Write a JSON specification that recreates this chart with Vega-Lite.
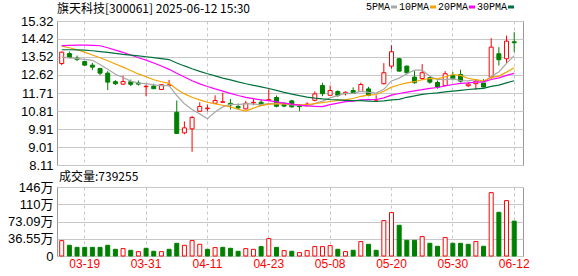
{
  "$schema": "https://vega.github.io/schema/vega-lite/v6.json",
  "padding": {"left": 0, "top": 2, "right": 0, "bottom": 0},
  "background": "#ffffff",
  "config": {
    "view": {"stroke": "#999999", "strokeWidth": 1},
    "axis": {
      "labelFont": "Liberation Sans, Noto Sans CJK SC",
      "labelFontSize": 13,
      "labelColor": "#000000",
      "gridColor": "#c8c8c8",
      "gridWidth": 1,
      "ticks": false,
      "domain": false,
      "title": null,
      "labelOverlap": false
    },
    "title": {"font": "Noto Sans CJK SC", "fontSize": 12, "fontWeight": "normal", "color": "#000000", "anchor": "start", "frame": "group"}
  },
  "datasets": {
    "k": [
      {"d":"03-14","o":13.19,"h":13.79,"l":13.11,"c":13.76,"v":326000,"up":true,"5PMA":13.51,"10PMA":14.06,"20PMA":14.09,"30PMA":13.88},
      {"d":"03-17","o":13.69,"h":13.79,"l":13.46,"c":13.49,"v":227000,"up":false,"5PMA":13.47,"10PMA":13.98,"20PMA":14.10,"30PMA":13.88},
      {"d":"03-18","o":13.46,"h":13.59,"l":13.31,"c":13.39,"v":184000,"up":false,"5PMA":13.44,"10PMA":13.88,"20PMA":14.11,"30PMA":13.87},
      {"d":"03-19","o":13.29,"h":13.33,"l":13.09,"c":13.11,"v":184000,"up":false,"5PMA":13.40,"10PMA":13.76,"20PMA":14.11,"30PMA":13.86},
      {"d":"03-20","o":13.11,"h":13.23,"l":12.86,"c":13.01,"v":184000,"up":false,"5PMA":13.35,"10PMA":13.62,"20PMA":14.10,"30PMA":13.83},
      {"d":"03-21","o":12.94,"h":12.98,"l":12.61,"c":12.71,"v":184000,"up":false,"5PMA":13.14,"10PMA":13.48,"20PMA":14.08,"30PMA":13.79},
      {"d":"03-24","o":12.71,"h":12.81,"l":11.86,"c":12.26,"v":227000,"up":false,"5PMA":12.90,"10PMA":13.33,"20PMA":13.98,"30PMA":13.75},
      {"d":"03-25","o":12.28,"h":12.36,"l":12.11,"c":12.18,"v":142000,"up":false,"5PMA":12.65,"10PMA":13.17,"20PMA":13.86,"30PMA":13.70},
      {"d":"03-26","o":12.16,"h":12.58,"l":12.11,"c":12.29,"v":156000,"up":true,"5PMA":12.49,"10PMA":13.01,"20PMA":13.75,"30PMA":13.65},
      {"d":"03-27","o":12.28,"h":12.39,"l":12.06,"c":12.15,"v":121000,"up":false,"5PMA":12.31,"10PMA":12.84,"20PMA":13.62,"30PMA":13.61},
      {"d":"03-28","o":12.22,"h":12.34,"l":12.09,"c":12.16,"v":93000,"up":true,"5PMA":12.21,"10PMA":12.67,"20PMA":13.48,"30PMA":13.57},
      {"d":"03-31","o":12.03,"h":12.14,"l":11.55,"c":12.05,"v":163000,"up":false,"5PMA":12.18,"10PMA":12.53,"20PMA":13.36,"30PMA":13.53},
      {"d":"04-01","o":12.06,"h":12.18,"l":11.93,"c":11.93,"v":100000,"up":false,"5PMA":12.12,"10PMA":12.38,"20PMA":13.22,"30PMA":13.49},
      {"d":"04-02","o":11.89,"h":12.14,"l":11.89,"c":12.13,"v":93000,"up":true,"5PMA":12.08,"10PMA":12.28,"20PMA":13.07,"30PMA":13.44},
      {"d":"04-03","o":12.09,"h":12.37,"l":12.05,"c":12.12,"v":142000,"up":false,"5PMA":12.08,"10PMA":12.20,"20PMA":12.90,"30PMA":13.39},
      {"d":"04-07","o":10.75,"h":11.34,"l":9.69,"c":9.69,"v":269000,"up":false,"5PMA":11.59,"10PMA":11.90,"20PMA":12.70,"30PMA":13.22},
      {"d":"04-08","o":9.72,"h":10.29,"l":9.65,"c":9.97,"v":227000,"up":true,"5PMA":11.18,"10PMA":11.67,"20PMA":12.52,"30PMA":13.07},
      {"d":"04-09","o":9.92,"h":10.57,"l":8.77,"c":10.49,"v":326000,"up":true,"5PMA":10.89,"10PMA":11.50,"20PMA":12.33,"30PMA":12.93},
      {"d":"04-10","o":10.80,"h":11.25,"l":10.80,"c":11.04,"v":248000,"up":true,"5PMA":10.67,"10PMA":11.37,"20PMA":12.17,"30PMA":12.80},
      {"d":"04-11","o":10.93,"h":11.14,"l":10.80,"c":10.96,"v":142000,"up":false,"5PMA":10.43,"10PMA":11.25,"20PMA":12.04,"30PMA":12.68},
      {"d":"04-14","o":11.20,"h":11.60,"l":11.20,"c":11.34,"v":178000,"up":true,"5PMA":10.76,"10PMA":11.17,"20PMA":11.92,"30PMA":12.57},
      {"d":"04-15","o":11.25,"h":11.73,"l":11.22,"c":11.28,"v":184000,"up":false,"5PMA":11.02,"10PMA":11.10,"20PMA":11.81,"30PMA":12.46},
      {"d":"04-16","o":11.20,"h":11.42,"l":10.89,"c":11.12,"v":163000,"up":false,"5PMA":11.15,"10PMA":11.02,"20PMA":11.70,"30PMA":12.37},
      {"d":"04-17","o":11.04,"h":11.19,"l":10.89,"c":10.97,"v":100000,"up":false,"5PMA":11.13,"10PMA":10.90,"20PMA":11.59,"30PMA":12.27},
      {"d":"04-18","o":10.92,"h":11.32,"l":10.89,"c":11.20,"v":156000,"up":true,"5PMA":11.18,"10PMA":10.81,"20PMA":11.50,"30PMA":12.18},
      {"d":"04-21","o":11.22,"h":11.44,"l":11.10,"c":11.25,"v":142000,"up":true,"5PMA":11.16,"10PMA":10.96,"20PMA":11.43,"30PMA":12.10},
      {"d":"04-22","o":11.25,"h":11.39,"l":11.10,"c":11.10,"v":199000,"up":false,"5PMA":11.13,"10PMA":11.08,"20PMA":11.37,"30PMA":12.02},
      {"d":"04-23","o":11.35,"h":11.90,"l":11.34,"c":11.38,"v":369000,"up":true,"5PMA":11.18,"10PMA":11.16,"20PMA":11.33,"30PMA":11.94},
      {"d":"04-24","o":11.49,"h":11.59,"l":11.00,"c":11.05,"v":184000,"up":false,"5PMA":11.20,"10PMA":11.17,"20PMA":11.27,"30PMA":11.85},
      {"d":"04-25","o":11.21,"h":11.21,"l":11.00,"c":11.06,"v":114000,"up":true,"5PMA":11.17,"10PMA":11.17,"20PMA":11.21,"30PMA":11.75},
      {"d":"04-28","o":11.32,"h":11.37,"l":10.99,"c":11.02,"v":100000,"up":false,"5PMA":11.12,"10PMA":11.14,"20PMA":11.16,"30PMA":11.66},
      {"d":"04-29","o":11.12,"h":11.14,"l":10.80,"c":11.03,"v":72000,"up":true,"5PMA":11.10,"10PMA":11.12,"20PMA":11.11,"30PMA":11.58},
      {"d":"04-30","o":11.12,"h":11.25,"l":11.09,"c":11.16,"v":114000,"up":true,"5PMA":11.06,"10PMA":11.12,"20PMA":11.07,"30PMA":11.51},
      {"d":"05-06","o":11.35,"h":11.80,"l":11.30,"c":11.67,"v":199000,"up":true,"5PMA":11.18,"10PMA":11.19,"20PMA":11.05,"30PMA":11.46},
      {"d":"05-07","o":12.09,"h":12.23,"l":11.55,"c":11.68,"v":199000,"up":true,"5PMA":11.31,"10PMA":11.23,"20PMA":11.03,"30PMA":11.42},
      {"d":"05-08","o":11.60,"h":12.09,"l":11.60,"c":11.84,"v":220000,"up":true,"5PMA":11.47,"10PMA":11.29,"20PMA":11.13,"30PMA":11.39},
      {"d":"05-09","o":11.79,"h":11.85,"l":11.52,"c":11.59,"v":142000,"up":false,"5PMA":11.58,"10PMA":11.34,"20PMA":11.21,"30PMA":11.37},
      {"d":"05-12","o":11.68,"h":11.80,"l":11.59,"c":11.75,"v":93000,"up":true,"5PMA":11.70,"10PMA":11.38,"20PMA":11.28,"30PMA":11.35},
      {"d":"05-13","o":11.84,"h":12.00,"l":11.67,"c":11.69,"v":121000,"up":false,"5PMA":11.70,"10PMA":11.44,"20PMA":11.31,"30PMA":11.33},
      {"d":"05-14","o":11.79,"h":12.23,"l":11.79,"c":12.14,"v":305000,"up":true,"5PMA":11.80,"10PMA":11.55,"20PMA":11.37,"30PMA":11.33},
      {"d":"05-15","o":11.92,"h":12.02,"l":11.55,"c":11.59,"v":248000,"up":false,"5PMA":11.75,"10PMA":11.61,"20PMA":11.38,"30PMA":11.31},
      {"d":"05-16","o":11.36,"h":11.60,"l":11.30,"c":11.37,"v":121000,"up":false,"5PMA":11.71,"10PMA":11.64,"20PMA":11.39,"30PMA":11.29},
      {"d":"05-19","o":12.18,"h":13.21,"l":12.14,"c":12.73,"v":750000,"up":true,"5PMA":11.90,"10PMA":11.80,"20PMA":11.47,"30PMA":11.32},
      {"d":"05-20","o":13.06,"h":14.11,"l":12.93,"c":13.78,"v":920000,"up":true,"5PMA":12.32,"10PMA":12.01,"20PMA":11.61,"30PMA":11.37},
      {"d":"05-21","o":13.43,"h":13.48,"l":12.79,"c":12.81,"v":651000,"up":false,"5PMA":12.46,"10PMA":12.13,"20PMA":11.69,"30PMA":11.40},
      {"d":"05-22","o":13.06,"h":13.09,"l":12.64,"c":12.73,"v":333000,"up":false,"5PMA":12.68,"10PMA":12.22,"20PMA":11.76,"30PMA":11.50},
      {"d":"05-23","o":12.51,"h":12.81,"l":12.18,"c":12.23,"v":333000,"up":false,"5PMA":12.86,"10PMA":12.28,"20PMA":11.82,"30PMA":11.57},
      {"d":"05-26","o":12.44,"h":13.16,"l":12.36,"c":12.73,"v":411000,"up":true,"5PMA":12.86,"10PMA":12.38,"20PMA":11.88,"30PMA":11.65},
      {"d":"05-27","o":12.48,"h":12.54,"l":12.18,"c":12.26,"v":269000,"up":false,"5PMA":12.55,"10PMA":12.44,"20PMA":11.95,"30PMA":11.69},
      {"d":"05-28","o":12.24,"h":12.34,"l":11.93,"c":12.01,"v":206000,"up":false,"5PMA":12.39,"10PMA":12.42,"20PMA":11.99,"30PMA":11.72},
      {"d":"05-29","o":12.09,"h":12.81,"l":12.07,"c":12.68,"v":390000,"up":true,"5PMA":12.38,"10PMA":12.53,"20PMA":12.07,"30PMA":11.77},
      {"d":"05-30","o":12.59,"h":12.76,"l":12.34,"c":12.43,"v":269000,"up":false,"5PMA":12.42,"10PMA":12.64,"20PMA":12.14,"30PMA":11.81},
      {"d":"06-03","o":12.64,"h":12.88,"l":12.24,"c":12.31,"v":269000,"up":false,"5PMA":12.34,"10PMA":12.60,"20PMA":12.20,"30PMA":11.85},
      {"d":"06-04","o":12.08,"h":12.26,"l":12.01,"c":12.16,"v":248000,"up":false,"5PMA":12.32,"10PMA":12.44,"20PMA":12.22,"30PMA":11.89},
      {"d":"06-05","o":12.18,"h":12.39,"l":11.88,"c":12.31,"v":305000,"up":true,"5PMA":12.38,"10PMA":12.39,"20PMA":12.26,"30PMA":11.92},
      {"d":"06-06","o":12.22,"h":12.41,"l":12.01,"c":12.01,"v":206000,"up":false,"5PMA":12.24,"10PMA":12.31,"20PMA":12.27,"30PMA":11.95},
      {"d":"06-09","o":12.51,"h":14.46,"l":12.43,"c":14.01,"v":1343000,"up":true,"5PMA":12.56,"10PMA":12.49,"20PMA":12.39,"30PMA":12.05},
      {"d":"06-10","o":13.68,"h":14.01,"l":13.09,"c":13.38,"v":926000,"up":false,"5PMA":12.77,"10PMA":12.56,"20PMA":12.47,"30PMA":12.11},
      {"d":"06-11","o":13.43,"h":14.59,"l":13.21,"c":14.31,"v":1174000,"up":true,"5PMA":13.20,"10PMA":12.76,"20PMA":12.60,"30PMA":12.22},
      {"d":"06-12","o":14.28,"h":14.76,"l":13.76,"c":14.23,"v":739255,"up":false,"5PMA":13.59,"10PMA":12.98,"20PMA":12.70,"30PMA":12.33}
    ]
  },
  "spacing": -3,
  "vconcat": [
    {
      "width": 466,
      "height": 144,
      "title": {"text": "旗天科技[300061] 2025-06-12 15:30", "offset": -1},
      "data": {"name": "k"},
      "encoding": {
        "x": {
          "field": "d", "type": "ordinal", "sort": null,
          "scale": {"paddingInner": 0, "paddingOuter": 0.38, "align": 0.15},
          "axis": {"values": ["03-19","03-31","04-11","04-23","05-08","05-20","05-30","06-12"], "labels": false, "grid": true, "gridDash": [3, 3], "bandPosition": 0.5, "minExtent": 0, "maxExtent": 0, "labelPadding": 0}
        }
      },
      "layer": [
        {
          "mark": {"type": "rule", "strokeWidth": 1},
          "encoding": {
            "y": {"field": "l", "type": "quantitative", "scale": {"domain": [8.11, 15.32], "nice": false, "zero": false},
              "axis": {"values": [8.11, 9.01, 9.91, 10.81, 11.71, 12.62, 13.52, 14.42, 15.32], "format": ".2f", "labelPadding": 4, "minExtent": 56, "maxExtent": 56, "grid": true, "labelOverlap": false}},
            "y2": {"field": "h"},
            "color": {"condition": {"test": "datum.c >= datum.o", "value": "#ff0000"}, "value": "#008000"}
          }
        },
        {
          "mark": {"type": "bar", "size": 4, "strokeWidth": 1},
          "encoding": {
            "y": {"field": "o", "type": "quantitative", "scale": {"domain": [8.11, 15.32], "nice": false, "zero": false},
              "axis": {"values": [8.11, 9.01, 9.91, 10.81, 11.71, 12.62, 13.52, 14.42, 15.32], "format": ".2f", "labelPadding": 4, "minExtent": 56, "maxExtent": 56, "grid": true, "labelOverlap": false}},
            "y2": {"field": "c"},
            "fill": {"condition": [{"test": "datum.c > datum.o", "value": "#ffffff"}, {"test": "datum.c == datum.o", "value": "#ff0000"}], "value": "#008000"},
            "stroke": {"condition": {"test": "datum.c >= datum.o", "value": "#ff0000"}, "value": "#008000"}
          }
        },
        {
          "transform": [{"fold": ["5PMA", "10PMA", "20PMA", "30PMA"], "as": ["ma", "val"]}],
          "mark": {"type": "line", "strokeWidth": 1.2},
          "encoding": {
            "y": {"field": "val", "type": "quantitative", "scale": {"domain": [8.11, 15.32], "nice": false, "zero": false},
              "axis": {"values": [8.11, 9.01, 9.91, 10.81, 11.71, 12.62, 13.52, 14.42, 15.32], "format": ".2f", "labelPadding": 4, "minExtent": 56, "maxExtent": 56, "grid": true, "labelOverlap": false}},
            "color": {
              "field": "ma", "type": "nominal",
              "scale": {"domain": ["5PMA", "10PMA", "20PMA", "30PMA"], "range": ["#a8a8a8", "#f4a300", "#ff00ff", "#00703c"]},
              "legend": {
                "orient": "none", "legendX": 332, "legendY": -19, "direction": "horizontal", "title": null,
                "labelFont": "Liberation Mono", "labelFontSize": 10, "labelColor": "#000000",
                "symbolType": "stroke", "symbolSize": 36, "symbolStrokeWidth": 3,
                "labelAlign": "right", "labelOffset": -9, "columnPadding": -5
              }
            }
          }
        }
      ]
    },
    {
      "width": 466,
      "height": 69,
      "title": {"text": "成交量:739255", "offset": -3, "dx": 2},
      "data": {"name": "k"},
      "mark": {"type": "bar", "size": 4, "strokeWidth": 1},
      "encoding": {
        "x": {
          "field": "d", "type": "ordinal", "sort": null,
          "scale": {"paddingInner": 0, "paddingOuter": 0.38, "align": 0.15},
          "axis": {"values": ["03-19","03-31","04-11","04-23","05-08","05-20","05-30","06-12"], "grid": true, "gridDash": [3, 3], "bandPosition": 0.5, "labelColor": "#ff0000", "labelFontSize": 12, "labelPadding": 2, "labelAngle": 0}
        },
        "y": {
          "field": "v", "type": "quantitative",
          "scale": {"domain": [0, 1462000], "nice": false},
          "axis": {"values": [0, 365500, 730900, 1096400, 1461800], "labelExpr": "datum.value == 0 ? '0' : datum.value > 1400000 ? '146万' : datum.value > 1000000 ? '110万' : format(datum.value / 10000, '.2f') + '万'", "labelPadding": 4, "minExtent": 56, "maxExtent": 56, "grid": true, "labelOverlap": false}
        },
        "fill": {"condition": {"test": "datum.up", "value": "#ffffff"}, "value": "#008000"},
        "stroke": {"condition": {"test": "datum.up", "value": "#ff0000"}, "value": "#008000"}
      }
    }
  ]
}
